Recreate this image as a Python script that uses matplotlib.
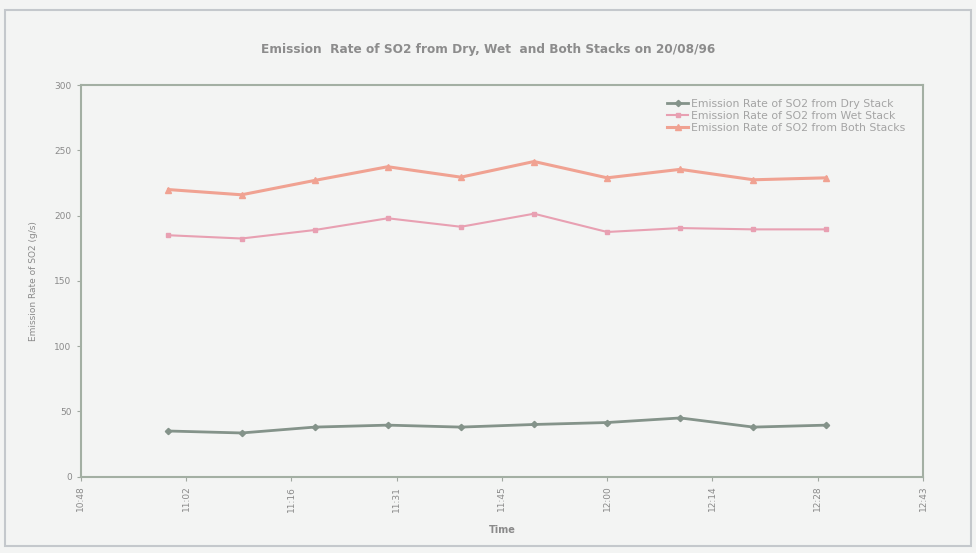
import matplotlib
matplotlib.use("Agg")
import matplotlib.pyplot as plt
from matplotlib.patches import Rectangle

# Sampling times (hh:mm) and SO2 emission rates in g/s
times = ["11:00", "11:10", "11:20", "11:30", "11:40", "11:50",
         "12:00", "12:10", "12:20", "12:30"]
dry = [35, 33.5, 38, 39.5, 38, 40, 41.5, 45, 38, 39.5]
wet = [185, 182.5, 189, 198, 191.5, 201.5, 187.5, 190.5, 189.5, 189.5]
both = [220, 216, 227, 237.5, 229.5, 241.5, 229, 235.5, 227.5, 229]

tick_labels = ["10:48", "11:02", "11:16", "11:31", "11:45",
               "12:00", "12:14", "12:28", "12:43"]
y_ticks = [0, 50, 100, 150, 200, 250, 300]


def to_minutes(t):
    h, m = t.split(":")
    return int(h) * 60 + int(m)


x = [to_minutes(t) for t in times]
# Axis runs 0.45 to 0.53 of a day in steps of 0.01 day (14.4 min)
tick_pos = [0.45 * 1440 + 14.4 * i for i in range(len(tick_labels))]

bg = "#f3f4f3"
fig = plt.figure(figsize=(9.76, 5.53), dpi=100, facecolor=bg)
fig.patches.append(Rectangle((0.005, 0.012), 0.99, 0.97,
                             transform=fig.transFigure, fill=False,
                             edgecolor="#c4c8cc", linewidth=1.5))

ax = fig.add_axes([0.0827, 0.138, 0.8630, 0.708])
ax.set_facecolor(bg)

ax.plot(x, dry, color="#84938a", linewidth=2.0, marker="D", markersize=3.2,
        label="Emission Rate of SO2 from Dry Stack")
ax.plot(x, wet, color="#e8a0b2", linewidth=1.5, marker="s", markersize=3.5,
        label="Emission Rate of SO2 from Wet Stack")
ax.plot(x, both, color="#f0a292", linewidth=2.2, marker="^", markersize=4,
        label="Emission Rate of SO2 from Both Stacks")

ax.set_xlim(tick_pos[0], tick_pos[-1])
ax.set_ylim(0, 300)
ax.set_xticks(tick_pos)
ax.set_xticklabels(tick_labels, rotation=90, fontsize=6.5, color="#8a8a8a")
ax.set_yticks(y_ticks)
ax.set_yticklabels([str(v) for v in y_ticks], fontsize=6.5, color="#8a8a8a")
ax.tick_params(length=3, color="#a0a8a0")

for side in ax.spines.values():
    side.set_color("#a3afa3")
    side.set_linewidth(1.5)

ax.set_xlabel("Time", fontsize=7, fontweight="bold", color="#8a8a8a", labelpad=10)
ax.set_ylabel("Emission Rate of SO2 (g/s)", fontsize=6.5, color="#8a8a8a",
              labelpad=12)

fig.text(0.5, 0.91, "Emission  Rate of SO2 from Dry, Wet  and Both Stacks on 20/08/96",
         ha="center", va="center", fontsize=8.7, fontweight="bold", color="#8c8c8c")

leg = ax.legend(loc="upper right", bbox_to_anchor=(0.99, 0.99), frameon=False,
                fontsize=7.8, handlelength=2.0, handletextpad=0.2,
                labelspacing=0.2)
for t in leg.get_texts():
    t.set_color("#a4a4a4")

fig.savefig("out.png", dpi=100, facecolor=bg)
